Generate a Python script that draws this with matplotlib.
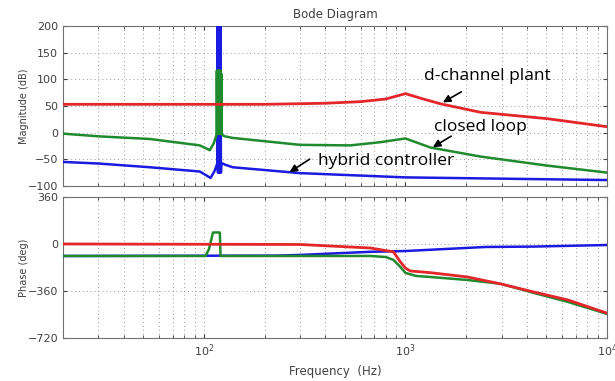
import matplotlib
matplotlib.use("Agg")
import matplotlib.pyplot as plt
from matplotlib.ticker import LogLocator, NullFormatter, FixedLocator

# ---------------- data ----------------
# d-channel plant magnitude (Hz, dB)
plant_mag_f = [20, 50, 100, 200, 400, 600, 800, 1000, 1200, 1490, 2360, 5080, 10000]
plant_mag_db = [53, 53, 53, 53, 55, 58, 63, 73, 64, 54, 38, 26, 11]

# closed loop magnitude
cl_mag_f = [20, 30, 54, 95.5, 107, 112, 115.5, 116, 116.5, 117, 117.5, 118, 118.5, 119,
            119.5, 120, 120.5, 121, 121.5, 122, 122.5, 124, 127, 139, 300, 532, 751,
            1000, 1331, 2361, 5080, 10000]
cl_mag_db = [-2, -7, -12, -24, -33, -20, -4, 116, -2, 116, -2, 116, -2, 116,
             -2, 116, -2, 116, -2, 110, -3, -5, -7, -10, -23, -24, -18,
             -11, -28, -45, -62, -75]

# hybrid controller magnitude
hc_mag_f = [20, 30, 54, 95.5, 108, 113, 116.5, 117, 117.5, 118, 118.5, 119, 119.5, 120,
            120.5, 121, 121.5, 122, 124, 127, 139, 300, 1000, 10000]
hc_mag_db = [-55, -58, -65, -73, -85, -72, -58, 250, -75, 250, -75, 250, -75, 250,
             -75, 250, -75, -60, -58, -60, -65, -76, -84, -89]

# phase (Hz, deg)
plant_ph_f = [20, 300, 670, 871, 944, 1000, 1059, 1331, 2031, 2970, 4336, 6400, 10000]
plant_ph_deg = [0, -4, -31, -60, -137, -185, -207, -220, -253, -306, -368, -429, -530]

cl_ph_f = [20, 102, 106, 111, 120, 121, 124, 670, 800, 871, 944, 1000, 1130, 1331,
           2031, 2970, 4336, 6400, 10000]
cl_ph_deg = [-92, -92, -40, 88, 88, -92, -92, -92, -100, -122, -176, -222, -245, -253,
             -276, -305, -375, -444, -536]

hc_ph_f = [20, 230, 300, 670, 1000, 2500, 4336, 10000]
hc_ph_deg = [-92, -89, -84, -60, -54, -23, -20, -8]

mag_ticks = [-100, -50, 0, 50, 100, 150, 200]
phase_ticks = [-720, -360, 0, 360]

# ---------------- styling ----------------
RED = "#e3262a"
GREEN = "#1f8a2e"
BLUE = "#1a1ae0"
GRIDC = "#9a9a9a"
TXT = "#404040"
plt.rcParams["font.family"] = ["DejaVu Sans"]

fig = plt.figure(figsize=(6.15, 3.81), dpi=100)
ax1 = fig.add_axes([0.1024, 0.512, 0.8846, 0.420])
ax2 = fig.add_axes([0.1024, 0.113, 0.8846, 0.370])

for ax in (ax1, ax2):
    ax.set_xscale("log")
    ax.set_xlim(20, 1e4)
    ax.xaxis.set_major_locator(LogLocator(base=10, numticks=10))
    ax.xaxis.set_minor_locator(LogLocator(base=10, subs=range(2, 10), numticks=20))
    ax.xaxis.set_minor_formatter(NullFormatter())
    ax.grid(True, which="both", axis="x", linestyle=(0, (1, 3)), color=GRIDC, lw=0.7)
    ax.grid(True, which="major", axis="y", linestyle=(0, (1, 3)), color=GRIDC, lw=0.7)
    ax.tick_params(which="both", direction="in", top=True, right=True,
                   colors=TXT, labelsize=8)
    ax.tick_params(which="major", length=3)
    ax.tick_params(which="minor", length=2)
    for s in ax.spines.values():
        s.set_color("#707070")
        s.set_linewidth(0.8)

# magnitude
ax1.plot(hc_mag_f, hc_mag_db, color=BLUE, lw=1.8, zorder=3)
ax1.plot(cl_mag_f, cl_mag_db, color=GREEN, lw=1.8, zorder=4)
ax1.plot(plant_mag_f, plant_mag_db, color=RED, lw=2.0, zorder=5)
ax1.set_ylim(-100, 200)
ax1.yaxis.set_major_locator(FixedLocator(mag_ticks))
ax1.tick_params(axis="x", labelbottom=False)
ax1.set_ylabel("Magnitude (dB)", fontsize=7, color=TXT, labelpad=-1)
ax1.set_title("Bode Diagram", fontsize=8.5, color=TXT, pad=6)

# phase
ax2.plot(hc_ph_f, hc_ph_deg, color=BLUE, lw=1.8, zorder=3)
ax2.plot(cl_ph_f, cl_ph_deg, color=GREEN, lw=1.8, zorder=4)
ax2.plot(plant_ph_f, plant_ph_deg, color=RED, lw=2.0, zorder=5)
ax2.set_ylim(-720, 360)
ax2.yaxis.set_major_locator(FixedLocator(phase_ticks))
ax2.set_ylabel("Phase (deg)", fontsize=7, color=TXT, labelpad=-1)
ax2.set_xlabel("Frequency  (Hz)", fontsize=8.5, color=TXT, labelpad=4)

# annotations
arrow = dict(arrowstyle="-|>", color="black", lw=1.2, mutation_scale=11)
tfont = dict(fontsize=12.5, family="Open Sans", color="black", ha="center", va="center")
ax1.text(2560, 107, "d-channel plant", **tfont, zorder=6)
ax1.annotate("", xy=(1493, 54), xytext=(1945, 79), arrowprops=arrow, zorder=6)
ax1.text(2360, 11, "closed loop", **tfont, zorder=6)
ax1.annotate("", xy=(1331, -30), xytext=(1733, -4), arrowprops=arrow, zorder=6)
ax1.text(804, -54, "hybrid controller", **tfont, zorder=6)
ax1.annotate("", xy=(259, -77), xytext=(344, -47), arrowprops=arrow, zorder=6)

fig.savefig("out.png", dpi=100)
